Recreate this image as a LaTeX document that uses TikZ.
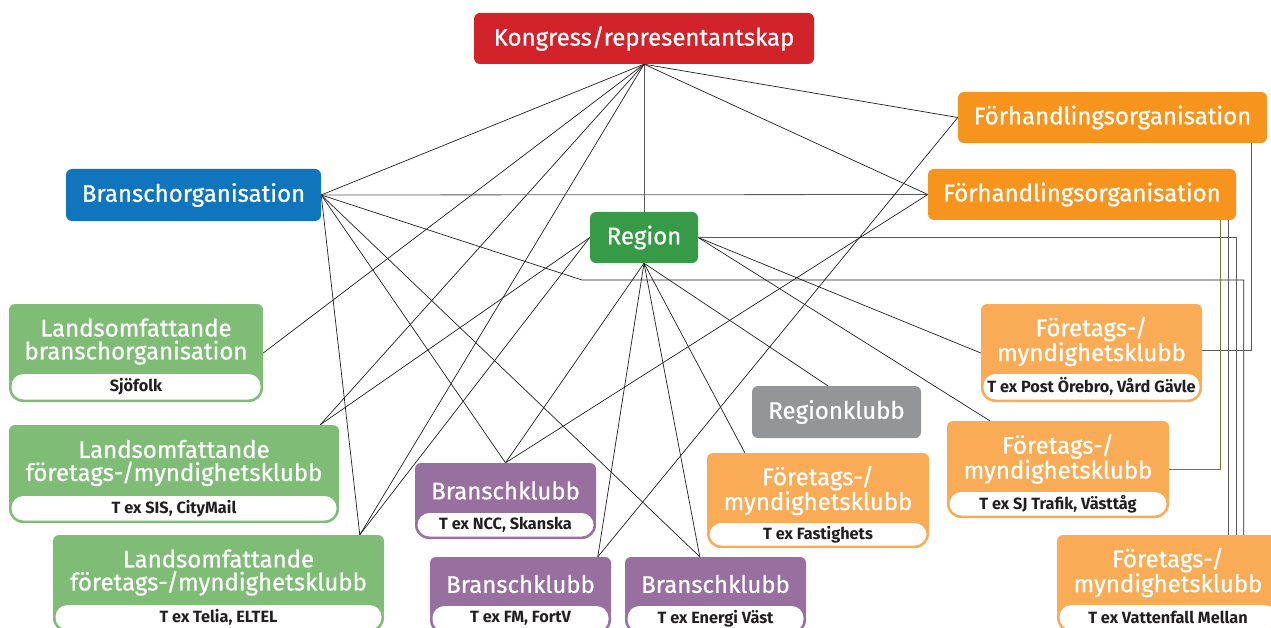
\documentclass[tikz,border=0pt]{standalone}
\usepackage{fontspec}
\setmainfont{Fira Sans}
\newfontfamily\titlefont{Fira Sans}[FakeBold=0.7]
\usetikzlibrary{calc,fit}
\definecolor{kred}{HTML}{D2232A}
\definecolor{kblue}{HTML}{0F75BC}
\definecolor{kgreen}{HTML}{379A47}
\definecolor{lgreen}{HTML}{7FBD77}
\definecolor{kpurple}{HTML}{98709F}
\definecolor{kgray}{HTML}{939598}
\definecolor{korange}{HTML}{F7941D}
\definecolor{lorange}{HTML}{F9AB56}
\definecolor{linec}{HTML}{231F20}
\definecolor{olivec}{HTML}{77772E}
\definecolor{subtext}{HTML}{231F20}
\tikzset{
  link/.style={draw=linec, line width=0.7pt},
  olink/.style={draw=olivec, line width=0.8pt},
  glink/.style={draw=black!65, line width=0.8pt},
  titletxt/.style={text=white, font=\titlefont\fontsize{24}{23}\selectfont, align=center, inner sep=0pt},
  subtxt/.style={text=subtext, font=\bfseries\fontsize{16.3}{18}\selectfont, inner sep=0pt},
  frame/.style={inner sep=0pt, draw=none}
}
\newcommand\plainbox[7]{%
  \fill[#6, rounded corners=6] (#2,#3) rectangle (#4,#5);
  \node[frame, fit={(#2,#3) (#4,#5)}] (#1) {};
  \node[titletxt] (#1-t) at ({(#2+#4)/2},{(#3+#5)/2}) {#7};
}
\newcommand\subbox[9]{%
  \fill[#7, rounded corners=6] (#2,{#6+12}) -- (#2,#3) -- (#4,#3) -- (#4,{#6+12}) -- cycle;
  \fill[#7, rounded corners=14] (#2,{#6-3}) rectangle (#4,#5);
  \fill[white, rounded corners=12] ({#2+2.5},#6) rectangle ({#4-2.5},{#5-2.5});
  \node[frame, fit={(#2,#3) (#4,#5)}] (#1) {};
  \node[titletxt] (#1-t) at ({(#2+#4)/2},{(#3+#6)/2+2.5}) {#8};
  \node[subtxt] (#1-s) at ({(#2+#4)/2},{(#6+#5-2.5)/2}) {#9};
}
\begin{document}
\begin{tikzpicture}[x=1pt,y=-1pt]
\useasboundingbox (0,0) rectangle (1271,628);
\clip (0,0) rectangle (1271,628);
\fill[white] (0,0) rectangle (1271,628);
% invisible frames first (for connector anchors)
\node[frame, fit={(474,13) (814,64)}] (kon) {};
\node[frame, fit={(66,169) (321,221)}] (bra) {};
\node[frame, fit={(590,212) (698,263)}] (reg) {};
\node[frame, fit={(958,92) (1267,143)}] (fa) {};
\node[frame, fit={(928,169) (1236,220)}] (fb) {};
\node[frame, fit={(752,386) (921,438)}] (rk) {};
\node[frame, fit={(9,304) (263,402)}] (sjo) {};
\node[frame, fit={(9,425) (339,523)}] (sis) {};
\node[frame, fit={(53,535) (384,632)}] (tel) {};
\node[frame, fit={(415,463) (596,539)}] (ncc) {};
\node[frame, fit={(430,557) (611,634)}] (fm) {};
\node[frame, fit={(625,557) (806,634)}] (ene) {};
\node[frame, fit={(707,453) (929,548)}] (fast) {};
\node[frame, fit={(981,304) (1202,402)}] (post) {};
\node[frame, fit={(947,421) (1169,518)}] (sj) {};
\node[frame, fit={(1057,535) (1279,632)}] (vat) {};
% connector end points
\coordinate (sisT) at ($(sis.north east)+(-19,0)$);
\coordinate (telT) at ($(tel.north west)+(307,0)$);
\coordinate (fmT) at ($(fm.north west)+(168,0)$);
\coordinate (eneT) at ($(ene.north west)+(75,0)$);
\coordinate (fastT) at ($(fast.north west)+(38,0)$);
\coordinate (rkT) at ($(rk.north west)+(76,0)$);
\coordinate (sjT) at ($(sj.north west)+(43,0)$);
\coordinate (vatA) at ($(vat.north west)+(172,0)$);
\coordinate (vatB) at ($(vat.north west)+(180,0)$);
\coordinate (vatC) at ($(vat.north west)+(187,0)$);
\coordinate (faB) at ($(fa.south west)+(294,0)$);
\coordinate (fbA) at ($(fb.south west)+(293,0)$);
\coordinate (fbB) at ($(fb.south west)+(301,0)$);
\coordinate (postE) at ($(post.east)+(0,-3)$);
\coordinate (bend) at (582,280);
% connectors
\draw[link] (kon.south) -- (bra.east);
\draw[link] (kon.south) -- (sjo.east);
\draw[link] (kon.south) -- (sisT);
\draw[link] (kon.south) -- (telT);
\draw[glink] (kon.south) -- (reg.north);
\draw[link] (kon.south) -- (fa.west);
\draw[link] (kon.south) -- (fb.west);
\draw[glink] (bra.east) -- (fb.west);
\draw[link] (bra.east) -- (bend) -| (vatC);
\draw[link] (bra.east) -- (telT);
\draw[link] (bra.east) -- (ncc.north);
\draw[link] (bra.east) -- (eneT);
\draw[link] (reg.west) -- (sisT);
\draw[link] (reg.west) -- (telT);
\draw[link] (reg.south) -- (ncc.north);
\draw[link] (reg.south) -- (fmT);
\draw[link] (reg.south) -- (eneT);
\draw[link] (reg.south) -- (fastT);
\draw[link] (reg.south) -- (rkT);
\draw[link] (reg.east) -- (post.west);
\draw[link] (reg.east) -- (sjT);
\draw[glink] (reg.east) -| (vatB);
\draw[link] (fa.west) -- (fmT);
\draw[link] (fb.west) -- (ncc.north);
\draw[glink] (faB) |- (postE);
\draw[olink] (fbA) |- (sj.east);
\draw[glink] (fbB) -- (vatA);
% boxes
\plainbox{konB}{474}{13}{814}{64}{kred}{Kongress/representantskap}
\plainbox{braB}{66}{169}{321}{221}{kblue}{Branschorganisation}
\plainbox{regB}{590}{212}{698}{263}{kgreen}{Region}
\plainbox{faB2}{958}{92}{1267}{143}{korange}{Förhandlingsorganisation}
\plainbox{fbB2}{928}{169}{1236}{220}{korange}{Förhandlingsorganisation}
\plainbox{rkB}{752}{386}{921}{438}{kgray}{Regionklubb}
\subbox{sjoB}{9}{304}{263}{402}{374}{lgreen}{Landsomfattande\\branschorganisation}{Sjöfolk}
\subbox{sisB}{9}{425}{339}{523}{496}{lgreen}{Landsomfattande\\företags-/myndighetsklubb}{T ex SIS, CityMail}
\subbox{telB}{53}{535}{384}{632}{605}{lgreen}{Landsomfattande\\företags-/myndighetsklubb}{T ex Telia, ELTEL}
\subbox{nccB}{415}{463}{596}{539}{513}{kpurple}{Branschklubb}{T ex NCC, Skanska}
\subbox{fmB}{430}{557}{611}{634}{606}{kpurple}{Branschklubb}{T ex FM, FortV}
\subbox{eneB}{625}{557}{806}{634}{606}{kpurple}{Branschklubb}{T ex Energi Väst}
\subbox{fastB}{707}{453}{929}{548}{523}{lorange}{Företags-/\\myndighetsklubb}{T ex Fastighets}
\subbox{postB}{981}{304}{1202}{402}{374}{lorange}{Företags-/\\myndighetsklubb}{T ex Post Örebro, Vård Gävle}
\subbox{sjB}{947}{421}{1169}{518}{492}{lorange}{Företags-/\\myndighetsklubb}{T ex SJ Trafik, Västtåg}
\subbox{vatB2}{1057}{535}{1279}{632}{605}{lorange}{Företags-/\\myndighetsklubb}{T ex Vattenfall Mellan}
\end{tikzpicture}
\end{document}
